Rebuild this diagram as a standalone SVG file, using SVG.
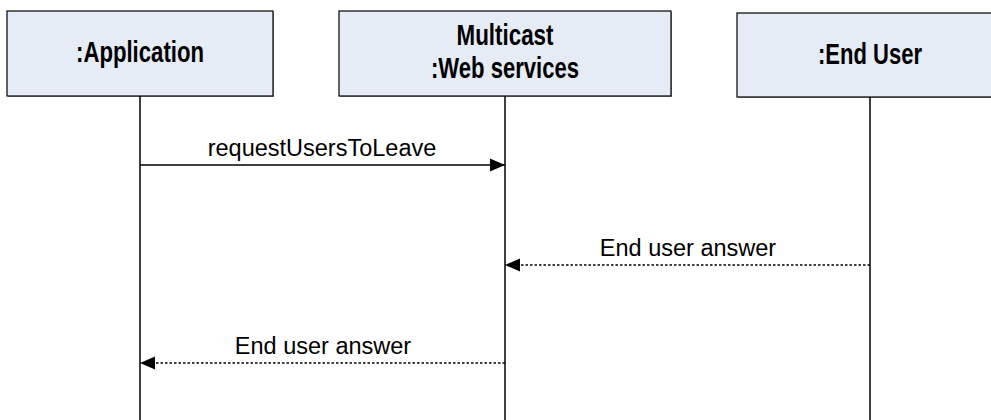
<svg xmlns="http://www.w3.org/2000/svg" width="991" height="420" viewBox="0 0 991 420">
<style>
.box{fill:#E6ECF6;stroke:#000;stroke-width:1.2}
.shadow{fill:#a0a0a0}
.title{font-family:"Liberation Sans",Arial,sans-serif;font-weight:bold;font-size:29px;fill:#000;text-anchor:middle}
.label{font-family:"Liberation Sans",Arial,sans-serif;font-size:23.5px;fill:#000;text-anchor:middle}
.life{stroke:#000;stroke-width:1.5;fill:none}
.msg{stroke:#000;stroke-width:1.4;fill:none}
.ret{stroke:#000;stroke-width:1.4;fill:none;stroke-dasharray:2.5,2}
</style>
<defs>
<marker id="head" markerWidth="16" markerHeight="14" refX="15" refY="7" orient="auto" markerUnits="userSpaceOnUse">
<path d="M0,0.5 L15,7 L0,13.5 Z" fill="#000"/>
</marker>
</defs>
<g id="node-application">
<rect class="shadow" x="8" y="12" width="266" height="85"/>
<rect class="box" x="7" y="11" width="266" height="85"/>
<line class="life" x1="140" y1="96" x2="140" y2="420"/>
<text class="title" x="140" y="62" textLength="128" lengthAdjust="spacingAndGlyphs">:Application</text>
</g>
<g id="node-multicast">
<rect class="shadow" x="340" y="12" width="332" height="85"/>
<rect class="box" x="339" y="11" width="332" height="85"/>
<line class="life" x1="505" y1="96" x2="505" y2="420"/>
<text class="title" x="505" y="45" textLength="97" lengthAdjust="spacingAndGlyphs">Multicast</text>
<text class="title" x="505" y="78" textLength="148" lengthAdjust="spacingAndGlyphs">:Web services</text>
</g>
<g id="node-enduser">
<rect class="shadow" x="738" y="14" width="266" height="84"/>
<rect class="box" x="737" y="13" width="266" height="84"/>
<line class="life" x1="870" y1="97" x2="870" y2="420"/>
<text class="title" x="870" y="64" textLength="104" lengthAdjust="spacingAndGlyphs">:End User</text>
</g>
<g id="connectors">
<line class="msg" x1="140" y1="165" x2="505" y2="165" marker-end="url(#head)"/>
<text class="label" x="322" y="156">requestUsersToLeave</text>
<line class="ret" x1="870" y1="265" x2="505" y2="265" marker-end="url(#head)"/>
<text class="label" x="688" y="256">End user answer</text>
<line class="ret" x1="505" y1="363" x2="140" y2="363" marker-end="url(#head)"/>
<text class="label" x="323" y="354">End user answer</text>
</g>
</svg>
